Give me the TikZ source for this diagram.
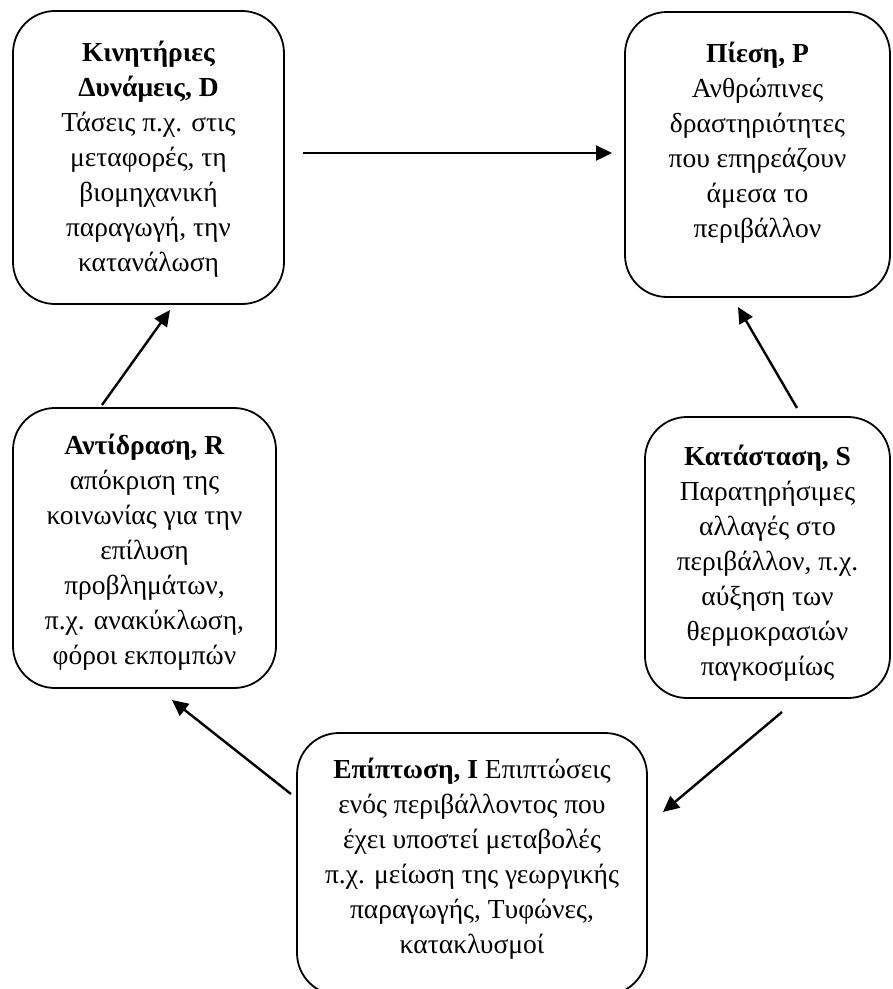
\documentclass[tikz,border=0pt]{standalone}
\usepackage{fontspec}
\setmainfont{Liberation Serif}
\usetikzlibrary{arrows.meta}
\begin{document}
\begin{tikzpicture}[x=1pt,y=-1pt,
 box/.style={draw, line width=1.8pt, rounded corners=42pt, inner sep=0pt},
 txt/.style={align=center, font=\fontsize{27.5}{35}\selectfont, inner sep=0pt},
 arr/.style={line width=2.4pt, -{Triangle[length=16pt,width=15pt]}}]
\useasboundingbox (0,0) rectangle (893,989);
\node[box, minimum width=271pt, minimum height=293pt] (D) at (148.5,157.5) {};
\node[box, minimum width=265pt, minimum height=285pt] (P) at (757.5,154.5) {};
\node[box, minimum width=263pt, minimum height=280pt] (R) at (144.5,548) {};
\node[box, minimum width=245pt, minimum height=281pt] (S) at (767.5,557.5) {};
\node[box, minimum width=350pt, minimum height=262pt] (I) at (472,864) {};

\node[txt] (Dt) at (148.5,159) {\textbf{Κινητήριες}\\ \textbf{Δυνάμεις, D}\\ Τάσεις π.χ. στις\\ μεταφορές, τη\\ βιομηχανική\\ παραγωγή, την\\ κατανάλωση};
\node[txt] (Pt) at (757.5,142.5) {\textbf{Πίεση, P}\\ Ανθρώπινες\\ δραστηριότητες\\ που επηρεάζουν\\ άμεσα το\\ περιβάλλον};
\node[txt] (Rt) at (144.5,552.5) {\textbf{Αντίδραση, R}\\ απόκριση της\\ κοινωνίας για την\\ επίλυση\\ προβλημάτων,\\ π.χ. ανακύκλωση,\\ φόροι εκπομπών};
\node[txt] (St) at (767.5,563) {\textbf{Κατάσταση, S}\\ Παρατηρήσιμες\\ αλλαγές στο\\ περιβάλλον, π.χ.\\ αύξηση των\\ θερμοκρασιών\\ παγκοσμίως};
\node[txt] (It) at (472,858.5) {\textbf{Επίπτωση, I} Επιπτώσεις\\ ενός περιβάλλοντος που\\ έχει υποστεί μεταβολές\\ π.χ. μείωση της γεωργικής\\ παραγωγής, Τυφώνες,\\ κατακλυσμοί};

\coordinate (dp1) at (303,153);
\coordinate (dp2) at (612,153);
\coordinate (rd1) at (102,405);
\coordinate (rd2) at (170,310);
\coordinate (sp1) at (797,408);
\coordinate (sp2) at (738,307);
\coordinate (si1) at (782,712);
\coordinate (si2) at (663,812);
\coordinate (ir1) at (291,794);
\coordinate (ir2) at (172,700);

\draw[arr] (dp1) -- (dp2);
\draw[arr] (rd1) -- (rd2);
\draw[arr] (sp1) -- (sp2);
\draw[arr] (si1) -- (si2);
\draw[arr] (ir1) -- (ir2);
\end{tikzpicture}
\end{document}
